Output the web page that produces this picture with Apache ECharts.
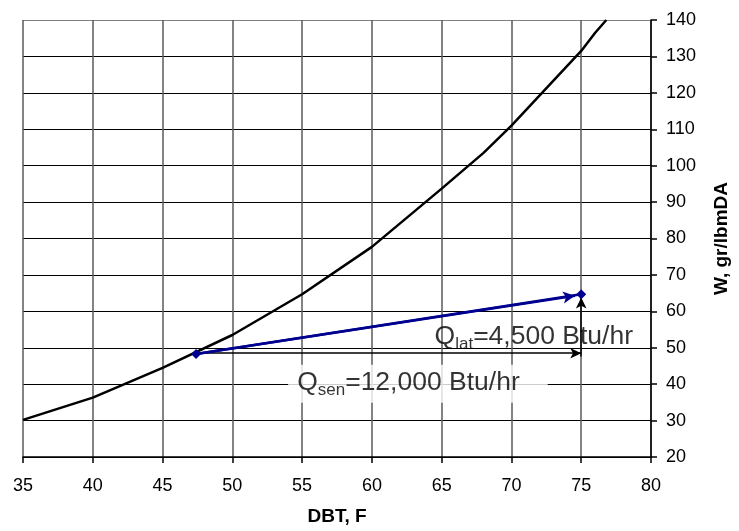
<!DOCTYPE html>
<html>
<head>
<meta charset="utf-8">
<script src="https://cdn.jsdelivr.net/npm/echarts@6/dist/echarts.min.js"></script>
<style>html,body{margin:0;padding:0;background:#fff}#c{width:739px;height:531px}</style>
</head>
<body>
<div id="c"></div>
<script>
// Saturation curve (DBT, F vs W, gr/lbmDA)
const satDbt = [35, 40, 45, 50, 55, 60, 65, 68, 70, 75, 76, 76.8];
const satW = [30.2, 36.3, 44.5, 53.5, 64.7, 77.7, 93.7, 103.5, 111, 131.5, 136.5, 140];
// Process line
const procDbt = [47.4, 75];
const procW = [48.3, 64.7];
// Axis settings
const xMin = 35, xMax = 80, xStep = 5;
const yMin = 20, yMax = 140, yStep = 10;
const xName = 'DBT, F';
const yName = 'W, gr/lbmDA';
const senText = ['Q', 'sen', '=12,000 Btu/hr'];
const latText = ['Q', 'lat', '=4,500 Btu/hr'];

const FONT = 'Arial, "Liberation Sans", sans-serif';
const chart = echarts.init(document.getElementById('c'), null, {renderer: 'canvas'});

const richStyle = {
  m: {fontSize: 26.5, lineHeight: 30, color: '#000', fontFamily: FONT, verticalAlign: 'top'},
  s: {fontSize: 17, lineHeight: 20, color: '#000', fontFamily: FONT, verticalAlign: 'bottom', padding: [14, 0, 0, 0]}
};
function qLabel(t) { return '{m|' + t[0] + '}{s|' + t[1] + '}{m|' + t[2] + '}'; }

// horizontal grid lines black, top border gray
const hLineColors = ['#000', '#000', '#000', '#000', '#000', '#000', '#000', '#000', '#000', '#000', '#000', '#000', '#808080'];

const option = {
  animation: false,
  backgroundColor: '#fff',
  grid: {left: 23, right: 77, top: 20, bottom: 74, containLabel: false},
  xAxis: {
    type: 'value', min: xMin, max: xMax, interval: xStep,
    name: xName, nameLocation: 'middle', nameGap: 50,
    nameTextStyle: {fontSize: 19, fontWeight: 'bold', color: '#000', fontFamily: FONT},
    axisLine: {show: true, lineStyle: {color: '#000', width: 1.5}},
    axisTick: {show: true, length: 6, lineStyle: {color: '#000', width: 1.5}},
    axisLabel: {fontSize: 18, color: '#000', fontFamily: FONT, margin: 20},
    splitLine: {show: true, lineStyle: {color: '#5a5a5a', width: 1.5}}
  },
  yAxis: {
    type: 'value', position: 'right', min: yMin, max: yMax, interval: yStep,
    name: yName, nameLocation: 'middle', nameGap: 61, nameRotate: 90,
    nameTextStyle: {fontSize: 19, fontWeight: 'bold', color: '#000', fontFamily: FONT},
    axisLine: {show: true, lineStyle: {color: '#000', width: 1.5}},
    axisTick: {show: true, length: 6, lineStyle: {color: '#000', width: 1.5}},
    axisLabel: {fontSize: 18, color: '#000', fontFamily: FONT, margin: 15},
    splitLine: {show: true, lineStyle: {color: hLineColors, width: 1}}
  },
  series: [
    {
      name: 'saturation', type: 'line', smooth: false, showSymbol: false, symbol: 'none',
      data: satDbt.map((x, i) => [x, satW[i]]),
      lineStyle: {color: '#000', width: 2.5}, z: 3
    },
    {
      name: 'arrows', type: 'line', data: [], symbol: 'none',
      markLine: {
        silent: true, symbol: ['none', 'arrow'], symbolSize: [8, 11],
        label: {show: false},
        lineStyle: {color: '#000', width: 1.5, type: 'solid'},
        data: [
          [{coord: [procDbt[0], 48.5]}, {coord: [procDbt[1], 48.5]}],
          [{coord: [procDbt[1], 47.6]}, {coord: [procDbt[1], 63.8]}]
        ]
      }, z: 4
    },
    {
      name: 'process', type: 'line', smooth: false,
      data: procDbt.map((x, i) => [x, procW[i]]),
      symbol: 'diamond', symbolSize: 10, showSymbol: true,
      itemStyle: {color: '#000090'},
      lineStyle: {color: '#000090', width: 2.5},
      markLine: {
        silent: true, symbol: ['none', 'arrow'], symbolSize: [9, 12],
        label: {show: false},
        lineStyle: {color: '#000090', width: 2.5, type: 'solid'},
        data: [[{coord: [procDbt[0], procW[0]]}, {coord: [74.55, 64.3]}]]
      }, z: 5
    },
    {
      name: 'labels', type: 'scatter', symbolSize: 1, itemStyle: {color: 'rgba(0,0,0,0)'},
      silent: true, z: 6,
      data: [
        {value: [63.3, 40.1], label: {show: true, position: 'inside', formatter: qLabel(senText), rich: richStyle,
          backgroundColor: '#fff', padding: [4, 28, 4, 9]}},
        {value: [71.6, 52.6], label: {show: true, position: 'inside', formatter: qLabel(latText), rich: richStyle}}
      ]
    }
  ]
};
chart.setOption(option);
</script>
</body>
</html>
